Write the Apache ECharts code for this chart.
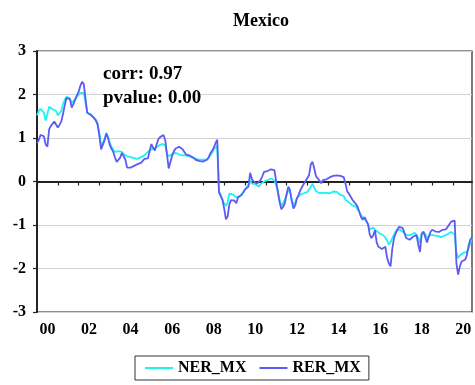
<!DOCTYPE html>
<html>
<head>
<meta charset="utf-8">
<script src="https://cdn.jsdelivr.net/npm/echarts@6/dist/echarts.min.js"></script>
<style>
  html, body { margin: 0; padding: 0; background: #fff; }
  #chart { width: 475px; height: 385px; }
</style>
</head>
<body>
<div id="chart"></div>
<script>
// Monthly observations, 2000M01 .. 2020M12
const firstYear = 2000;
const lastYear = 2020;

const titleText = 'Mexico';
const seriesNames = ['NER_MX', 'RER_MX'];
const statLines = ['corr: 0.97', 'pvalue: 0.00'];
const yTicks = [-3, -2, -1, 0, 1, 2, 3];

// Nominal exchange rate (standardised), one row per year
const ner = [
  1.52, 1.62, 1.67, 1.64, 1.58, 1.40, 1.55, 1.72, 1.68, 1.66, 1.68, 1.62,
  1.52, 1.50, 1.62, 1.78, 1.88, 1.95, 1.93, 1.90, 1.80, 1.85, 1.90, 1.95,
  1.98, 2.03, 2.06, 2.04, 1.80, 1.58, 1.56, 1.55, 1.52, 1.47, 1.42, 1.33,
  1.10, 0.80, 0.78, 0.98, 1.12, 1.02, 0.88, 0.80, 0.73, 0.68, 0.68, 0.70,
  0.70, 0.68, 0.63, 0.60, 0.58, 0.57, 0.56, 0.55, 0.54, 0.53, 0.52, 0.54,
  0.56, 0.58, 0.60, 0.64, 0.68, 0.72, 0.74, 0.72, 0.76, 0.80, 0.82, 0.85,
  0.86, 0.88, 0.84, 0.64, 0.58, 0.60, 0.63, 0.64, 0.66, 0.64, 0.62, 0.62,
  0.60, 0.62, 0.60, 0.56, 0.57, 0.58, 0.55, 0.53, 0.52, 0.52, 0.50, 0.52,
  0.50, 0.48, 0.50, 0.54, 0.60, 0.66, 0.74, 0.78, 0.82, -0.23, -0.30, -0.42,
  -0.50, -0.56, -0.48, -0.28, -0.24, -0.30, -0.26, -0.36, -0.38, -0.34, -0.32, -0.25,
  -0.22, -0.14, -0.08, 0.02, -0.05, -0.02, -0.06, -0.08, -0.12, -0.06, -0.03, 0.00,
  0.02, 0.03, 0.05, 0.07, 0.05, 0.03, 0.02, -0.22, -0.42, -0.56, -0.50, -0.42,
  -0.30, -0.20, -0.25, -0.42, -0.54, -0.48, -0.38, -0.35, -0.30, -0.28, -0.27, -0.25,
  -0.24, -0.22, -0.12, -0.05, -0.15, -0.22, -0.24, -0.27, -0.28, -0.26, -0.27, -0.26,
  -0.25, -0.27, -0.25, -0.23, -0.22, -0.24, -0.28, -0.31, -0.30, -0.33, -0.42, -0.46,
  -0.48, -0.52, -0.55, -0.55, -0.58, -0.62, -0.70, -0.78, -0.82, -0.86, -0.92, -0.98,
  -1.10, -1.12, -1.06, -1.10, -1.14, -1.18, -1.20, -1.23, -1.24, -1.28, -1.35, -1.45,
  -1.40, -1.30, -1.22, -1.14, -1.11, -1.10, -1.12, -1.15, -1.20, -1.23, -1.24, -1.25,
  -1.22, -1.20, -1.18, -1.20, -1.30, -1.42, -1.19, -1.18, -1.20, -1.30, -1.26, -1.22,
  -1.22, -1.24, -1.27, -1.25, -1.26, -1.28, -1.26, -1.25, -1.23, -1.21, -1.19, -1.16,
  -1.14, -1.22, -1.62, -1.76, -1.70, -1.66, -1.64, -1.65, -1.62, -1.55, -1.42, -1.30
];

// Real exchange rate (standardised), one row per year
const rer = [
  0.88, 0.95, 1.07, 1.08, 1.04, 0.85, 0.80, 1.20, 1.28, 1.25, 1.38, 1.42,
  1.24, 1.30, 1.38, 1.55, 1.75, 1.92, 1.96, 1.90, 1.70, 1.78, 1.88, 1.98,
  2.06, 2.20, 2.29, 2.24, 1.90, 1.58, 1.55, 1.53, 1.50, 1.45, 1.40, 1.30,
  1.05, 0.74, 0.72, 0.95, 1.10, 1.00, 0.84, 0.75, 0.68, 0.55, 0.45, 0.47,
  0.55, 0.66, 0.58, 0.50, 0.32, 0.28, 0.32, 0.34, 0.36, 0.38, 0.40, 0.41,
  0.43, 0.46, 0.52, 0.55, 0.53, 0.70, 0.86, 0.78, 0.71, 0.85, 0.97, 1.02,
  1.05, 1.07, 0.95, 0.62, 0.30, 0.45, 0.60, 0.70, 0.76, 0.78, 0.80, 0.78,
  0.74, 0.70, 0.62, 0.58, 0.60, 0.61, 0.55, 0.52, 0.49, 0.52, 0.47, 0.50,
  0.46, 0.45, 0.50, 0.55, 0.65, 0.70, 0.78, 0.88, 0.96, -0.25, -0.28, -0.42,
  -0.62, -0.87, -0.80, -0.52, -0.43, -0.46, -0.44, -0.50, -0.36, -0.33, -0.31, -0.25,
  -0.18, -0.14, -0.12, 0.20, 0.05, 0.00, -0.02, -0.05, -0.08, 0.03, 0.12, 0.22,
  0.22, 0.24, 0.25, 0.28, 0.24, 0.26, 0.22, -0.25, -0.48, -0.64, -0.58, -0.50,
  -0.30, -0.12, -0.20, -0.45, -0.62, -0.55, -0.38, -0.30, -0.20, -0.12, -0.05, -0.02,
  0.08, 0.15, 0.40, 0.45, 0.30, 0.12, 0.15, 0.02, -0.04, 0.03, 0.07, 0.05,
  0.09, 0.10, 0.12, 0.13, 0.12, 0.14, 0.15, 0.13, 0.12, 0.10, -0.05, -0.23,
  -0.28, -0.35, -0.42, -0.46, -0.52, -0.58, -0.70, -0.82, -0.88, -0.82, -0.85, -0.98,
  -1.22, -1.30, -1.24, -1.12, -1.40, -1.50, -1.46, -1.55, -1.52, -1.50, -1.75, -1.88,
  -1.95, -1.55, -1.30, -1.19, -1.10, -1.04, -1.05, -1.07, -1.18, -1.30, -1.32, -1.34,
  -1.30, -1.27, -1.24, -1.23, -1.45, -1.62, -1.20, -1.15, -1.18, -1.40, -1.36, -1.16,
  -1.11, -1.12, -1.15, -1.12, -1.16, -1.19, -1.11, -1.15, -1.10, -1.04, -0.98, -0.92,
  -0.88, -0.90, -1.88, -2.14, -1.95, -1.84, -1.82, -1.80, -1.70, -1.48, -1.34, -1.28
];

// Month categories like "2000M01"
const months = [];
for (let y = firstYear; y <= lastYear; y++) {
  for (let m = 1; m <= 12; m++) {
    months.push(y + 'M' + (m < 10 ? '0' + m : m));
  }
}

const serif = '"Liberation Serif", "Times New Roman", serif';
const nerColor = '#1EF2F2';
const rerColor = '#5C5CF2';

const chart = echarts.init(document.getElementById('chart'), null, { renderer: 'canvas' });

chart.setOption({
  animation: false,
  backgroundColor: '#ffffff',
  title: {
    text: titleText,
    left: 256,
    top: 7,
    textAlign: 'center',
    textStyle: { fontFamily: serif, fontWeight: 'bold', fontSize: 18, color: '#000' }
  },
  grid: {
    left: 37, right: 3, top: 51, bottom: 73,
    show: true, borderColor: '#222', borderWidth: 1.2, backgroundColor: 'transparent'
  },
  xAxis: {
    type: 'category',
    data: months,
    boundaryGap: false,
    axisLine: { lineStyle: { color: '#222', width: 2 } },
    axisTick: {
      interval: (idx) => idx % 12 === 0,
      length: 4,
      lineStyle: { color: '#222', width: 1.2 }
    },
    axisLabel: {
      interval: (idx) => idx % 24 === 6,
      formatter: (v) => v.slice(2, 4),
      margin: 10,
      fontFamily: serif, fontWeight: 'bold', fontSize: 16, color: '#000'
    },
    splitLine: { show: false }
  },
  yAxis: {
    type: 'value',
    min: yTicks[0],
    max: yTicks[yTicks.length - 1],
    interval: 1,
    axisLine: { show: true, lineStyle: { color: '#222', width: 2 } },
    axisTick: { show: true, length: 4, lineStyle: { color: '#222', width: 1.2 } },
    axisLabel: {
      margin: 11,
      fontFamily: serif, fontWeight: 'bold', fontSize: 16, color: '#000'
    },
    splitLine: { show: true, lineStyle: { color: '#d2d2d2', width: 1 } }
  },
  legend: {
    left: 135,
    top: 356,
    padding: [4, 8, 4, 10],
    itemGap: 13,
    itemWidth: 28,
    itemHeight: 2,
    icon: 'rect',
    borderColor: '#333',
    borderWidth: 1,
    textStyle: { fontFamily: serif, fontWeight: 'bold', fontSize: 16, color: '#000', lineHeight: 16 },
    data: seriesNames
  },
  graphic: [
    {
      type: 'text', left: 103, top: 65, z: 100,
      style: { text: statLines[0], font: 'bold 19px ' + serif, fill: '#000', backgroundColor: '#fff' }
    },
    {
      type: 'text', left: 103, top: 89, z: 100,
      style: { text: statLines[1], font: 'bold 19px ' + serif, fill: '#000', backgroundColor: '#fff' }
    }
  ],
  series: [
    {
      name: seriesNames[0],
      type: 'line',
      data: ner,
      showSymbol: false,
      color: nerColor,
      lineStyle: { color: nerColor, width: 1.8 },
      z: 2
    },
    {
      name: seriesNames[1],
      type: 'line',
      data: rer,
      showSymbol: false,
      color: rerColor,
      lineStyle: { color: rerColor, width: 1.8 },
      z: 3
    }
  ]
});
</script>
</body>
</html>
